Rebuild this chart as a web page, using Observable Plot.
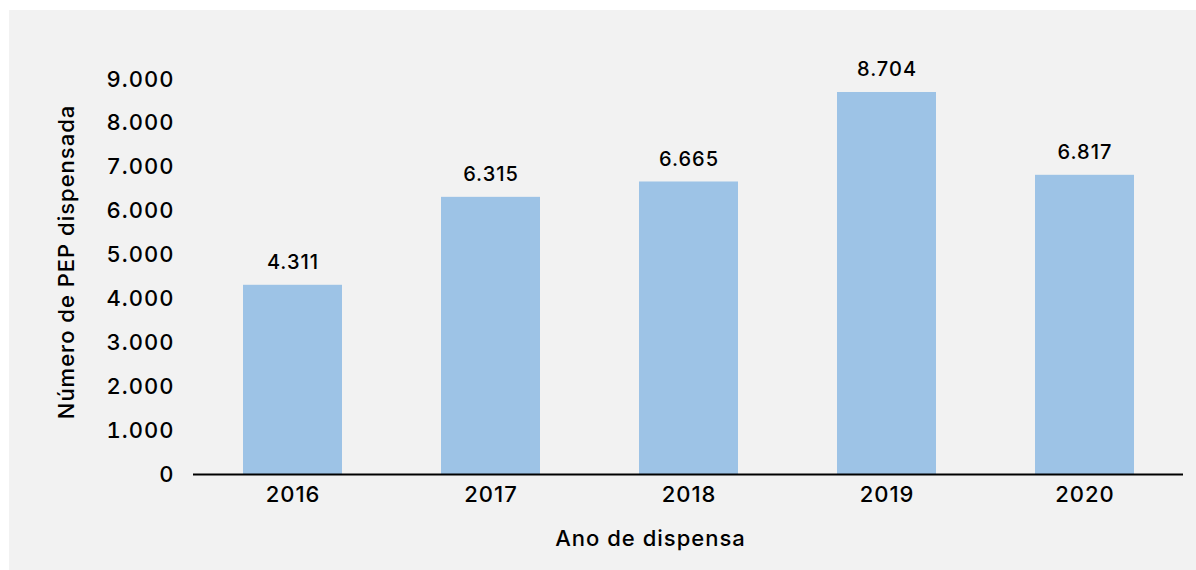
<!DOCTYPE html>
<html><head><meta charset="utf-8">
<script src="https://cdn.jsdelivr.net/npm/d3@7"></script>
<script src="https://cdn.jsdelivr.net/npm/@observablehq/plot@0.6"></script>
<style>
html,body{margin:0;padding:0;background:#fff;}
#wrap{position:relative;width:1196px;height:570px;overflow:hidden;}
#panel{position:absolute;left:9px;top:10px;right:0;bottom:0;background:#f2f2f2;}
#chart{position:absolute;left:0;top:0;}
#chart svg text{letter-spacing:1px;}
</style></head><body>
<div id="wrap"><div id="panel"></div><div id="chart"></div></div>
<script>
const years = ["2016", "2017", "2018", "2019", "2020"];
const values = [4311, 6315, 6665, 8704, 6817];
const yTicks = [0, 1000, 2000, 3000, 4000, 5000, 6000, 7000, 8000, 9000];
const xTitle = "Ano de dispensa";
const yTitle = "Número de PEP dispensada";

const data = years.map((y, i) => ({year: y, value: values[i]}));
const fmt = d3.formatLocale({decimal: ",", thousands: ".", grouping: [3], currency: ["", ""]}).format(",d");

const chart = Plot.plot({
  width: 1196,
  height: 570,
  marginLeft: 193,
  marginRight: 13,
  marginTop: 79,
  marginBottom: 96,
  style: {fontFamily: "Inter, Lato, sans-serif", fontSize: "22px", fontWeight: 500, color: "#000", background: "transparent", overflow: "visible"},
  x: {domain: years, paddingInner: 0.5, paddingOuter: 0.25, label: null},
  y: {domain: [0, 9000], label: null},
  marks: [
    Plot.axisX({tickSize: 0, tickPadding: 12, label: null, fontSize: 22}),
    Plot.axisY({ticks: yTicks, tickSize: 0, tickPadding: 19, tickFormat: fmt, label: null, fontSize: 22}),
    Plot.barY(data, {x: "year", y: "value", fill: "#9dc3e6"}),
    Plot.ruleY([0], {stroke: "#000", strokeWidth: 2}),
    Plot.text(data, {x: "year", y: "value", text: d => fmt(d.value), lineAnchor: "bottom", dy: -16, fontSize: 20, fill: "#000"}),
    Plot.text([xTitle], {frameAnchor: "bottom", dx: -38, dy: 71, fontSize: 22, fill: "#000"}),
    Plot.text([yTitle], {frameAnchor: "left", textAnchor: "middle", rotate: -90, dx: -127, dy: -15, fontSize: 22, fill: "#000"})
  ]
});
document.getElementById("chart").appendChild(chart);
</script>
</body></html>
